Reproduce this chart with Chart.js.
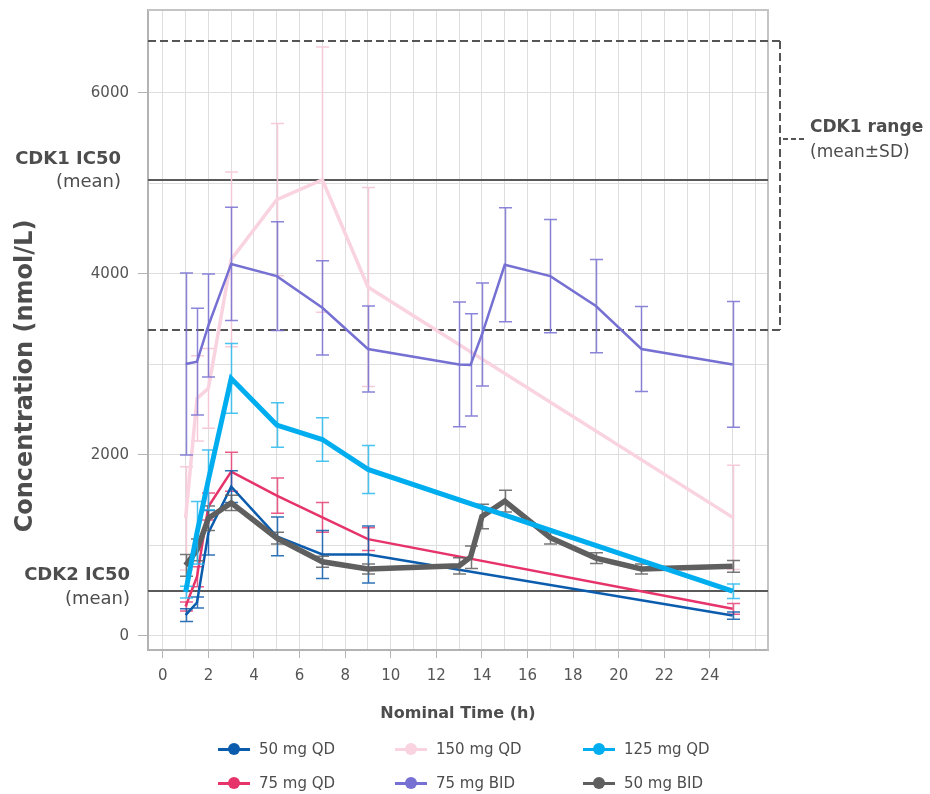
<!DOCTYPE html>
<html>
<head>
<meta charset="utf-8">
<title>Concentration over time</title>
<script src="https://cdn.jsdelivr.net/npm/chart.js@4.4.1/dist/chart.umd.min.js"></script>
<style>
  html, body { margin: 0; padding: 0; background: #ffffff; }
  #wrap { position: relative; width: 930px; height: 794px; overflow: hidden; }
  #chart { position: absolute; left: 0; top: 0; }
  .item { position: absolute; display: flex; align-items: center; white-space: nowrap;
          font-family: "DejaVu Sans", sans-serif; font-size: 15px; color: #4d4d4d; height: 20px; }
  .mark { position: relative; width: 32px; height: 12px; margin-right: 9px; flex: none; }
  .mark .ln { position: absolute; left: 0; right: 0; top: 5px; height: 3px; }
  .mark .dot { position: absolute; left: 10px; top: 0; width: 12px; height: 12px; border-radius: 50%; }
</style>
</head>
<body>
<div id="wrap">
  <canvas id="chart" width="930" height="794"></canvas>
</div>
<script>
// Nominal sampling times (h)
const timesQD  = [1, 1.5, 2, 3, 5, 7, 9, 25];
const timesBID = [1, 1.5, 2, 3, 5, 7, 9, 13, 13.5, 14, 15, 17, 19, 21, 25];

// Mean concentrations (nmol/L) and SD per dose group
const mean50QD  = [230, 370, 1140, 1650, 1100, 900, 900, 225];
const sd50QD    = [70, 60, 245, 175, 215, 265, 315, 40];
const mean75QD  = [325, 655, 1430, 1815, 1550, 1310, 1070, 300];
const sd75QD    = [50, 110, 150, 215, 195, 165, 125, 60];
const mean150QD = [1300, 2625, 2735, 4160, 4820, 5040, 3855, 1310];
const sd150QD   = [570, 470, 440, 965, 840, 1465, 1100, 575];
const mean125QD = [485, 1140, 1725, 2845, 2330, 2170, 1840, 495];
const sd125QD   = [65, 345, 330, 385, 245, 240, 265, 80];
const mean75BID = [3005, 3030, 3430, 4110, 3975, 3625, 3170, 3000, 2995, 3330, 4100, 3975, 3645, 3170, 3000];
const sd75BID   = [1005, 590, 570, 625, 600, 520, 475, 690, 565, 570, 630, 625, 515, 470, 695];
const mean50BID = [780, 950, 1300, 1470, 1080, 820, 740, 775, 870, 1320, 1490, 1085, 860, 740, 770];
const sd50BID   = [120, 120, 135, 85, 65, 60, 55, 90, 125, 135, 120, 70, 60, 55, 65];

// Reference potency levels (nmol/L)
const cdk1Mean  = 5040;
const cdk1Range = [3375, 6570];   // mean - SD, mean + SD
const cdk2Mean  = 500;

// Axis ticks: grid positions and labelled values
const xGrid = [0, 1, 2, 3, 4, 5, 6, 7, 8, 9, 10, 11, 12, 13, 14, 15, 16, 17, 18, 19, 20, 21, 22, 23, 24, 25, 26];
const xTickLabels = [0, 2, 4, 6, 8, 10, 12, 14, 16, 18, 20, 22, 24];
const yGrid = [0, 1000, 2000, 3000, 4000, 5000, 6000];
const yTickLabels = [0, 2000, 4000, 6000];

const FONT = '"DejaVu Sans", sans-serif';
const TEXT = '#4d4d4d';

function points(times, values) {
  return times.map((t, i) => ({ x: t, y: values[i] }));
}

// Series in legend order (row by row)
const series = [
  { label: '50 mg QD',  t: timesQD,  m: mean50QD,  sd: sd50QD,  color: '#0b5cad', bar: 'rgba(11,92,173,0.85)',   width: 2.5, order: 3 },
  { label: '150 mg QD', t: timesQD,  m: mean150QD, sd: sd150QD, color: '#f9d3df', bar: 'rgba(246,200,214,0.95)', width: 3.5, order: 6 },
  { label: '125 mg QD', t: timesQD,  m: mean125QD, sd: sd125QD, color: '#00aeef', bar: 'rgba(40,184,240,0.85)',  width: 5,   order: 1 },
  { label: '75 mg QD',  t: timesQD,  m: mean75QD,  sd: sd75QD,  color: '#e6336a', bar: 'rgba(230,51,106,0.8)',   width: 2.5, order: 4 },
  { label: '75 mg BID', t: timesBID, m: mean75BID, sd: sd75BID, color: '#7570d2', bar: 'rgba(117,112,210,0.85)', width: 2.5, order: 5 },
  { label: '50 mg BID', t: timesBID, m: mean50BID, sd: sd50BID, color: '#5f5f5f', bar: 'rgba(95,95,95,0.85)',    width: 5.5, order: 2 }
];

const datasets = series.map(s => ({
  label: s.label,
  data: points(s.t, s.m),
  borderColor: s.color,
  backgroundColor: s.color,
  borderWidth: s.width,
  pointRadius: 0,
  tension: 0,
  order: s.order,
  clip: false
}));

// Mean ± SD whiskers, drawn just before each line
const sdWhiskers = {
  id: 'sdWhiskers',
  beforeDatasetDraw(chart, args) {
    const s = series[args.index];
    const xs = chart.scales.x, ys = chart.scales.y, c = chart.ctx;
    c.save();
    c.strokeStyle = s.bar;
    c.lineWidth = 1.5;
    s.t.forEach((t, i) => {
      const px = Math.round(xs.getPixelForValue(t)) + 0.5;
      const top = ys.getPixelForValue(s.m[i] + s.sd[i]);
      const bot = ys.getPixelForValue(s.m[i] - s.sd[i]);
      c.beginPath();
      c.moveTo(px, top); c.lineTo(px, bot);
      c.moveTo(px - 6.5, top); c.lineTo(px + 6.5, top);
      c.moveTo(px - 6.5, bot); c.lineTo(px + 6.5, bot);
      c.stroke();
    });
    c.restore();
  }
};

// IC50 reference lines, CDK1 range bracket, frame and annotation text
const referenceLines = {
  id: 'referenceLines',
  beforeDatasetsDraw(chart) {
    const { ctx: c, chartArea: a } = chart;
    const ys = chart.scales.y;
    c.save();
    // top / right frame
    c.strokeStyle = '#c4c4c4';
    c.lineWidth = 2;
    c.beginPath();
    c.moveTo(a.left, a.top); c.lineTo(a.right, a.top); c.lineTo(a.right, a.bottom);
    c.stroke();

    // solid IC50 lines
    c.strokeStyle = '#5a5a5a';
    c.lineWidth = 2;
    [cdk1Mean, cdk2Mean].forEach(v => {
      const y = Math.round(ys.getPixelForValue(v));
      c.beginPath(); c.moveTo(a.left, y); c.lineTo(a.right, y); c.stroke();
    });

    // dashed CDK1 range with bracket
    const bx = a.right + 12;
    const yHi = Math.round(ys.getPixelForValue(cdk1Range[1]));
    const yLo = Math.round(ys.getPixelForValue(cdk1Range[0]));
    c.setLineDash([8, 4]);
    c.strokeStyle = '#555555';
    c.beginPath();
    c.moveTo(a.left, yHi); c.lineTo(bx, yHi);
    c.moveTo(a.left, yLo); c.lineTo(bx, yLo);
    c.moveTo(bx, yHi); c.lineTo(bx, yLo);
    c.stroke();
    c.setLineDash([5, 3]);
    const yc = yHi + 98;
    c.beginPath(); c.moveTo(bx + 3, yc); c.lineTo(bx + 25, yc); c.stroke();
    c.restore();
  },
  afterDraw(chart) {
    const { ctx: c, chartArea: a } = chart;
    const ys = chart.scales.y;
    c.save();
    c.fillStyle = TEXT;
    c.textBaseline = 'middle';

    // y axis title
    c.save();
    c.translate(26, 376);
    c.rotate(-Math.PI / 2);
    c.textAlign = 'center';
    c.font = 'bold 24px ' + FONT;
    c.fillText('Concentration (nmol/L)', 0, 0);
    c.restore();

    // left labels for the IC50 lines
    c.textAlign = 'right';
    const y1 = ys.getPixelForValue(cdk1Mean);
    c.font = 'bold 18px ' + FONT;
    c.fillText('CDK1 IC50', 121, y1 - 20);
    c.font = '18px ' + FONT;
    c.fillText('(mean)', 121, y1 + 3);
    const y2 = ys.getPixelForValue(cdk2Mean);
    c.font = 'bold 18px ' + FONT;
    c.fillText('CDK2 IC50', 130, y2 - 15);
    c.font = '18px ' + FONT;
    c.fillText('(mean)', 130, y2 + 9);

    // right label for the range bracket
    const yHi = Math.round(ys.getPixelForValue(cdk1Range[1]));
    const yc = yHi + 98;
    c.textAlign = 'left';
    c.font = 'bold 17px ' + FONT;
    c.fillText('CDK1 range', a.right + 42, yc - 11);
    c.font = '17px ' + FONT;
    c.fillText('(mean\u00B1SD)', a.right + 42, yc + 14);
    c.restore();
  }
};

const gridColor = '#dedede';
const axisColor = '#b3b3b3';

const chart = new Chart(document.getElementById('chart'), {
  type: 'line',
  data: { datasets },
  options: {
    responsive: false,
    animation: false,
    devicePixelRatio: 1,
    layout: { padding: { left: 0, right: 162, top: 10, bottom: 64 } },
    plugins: { legend: { display: false }, tooltip: { enabled: false } },
    scales: {
      x: {
        type: 'linear',
        min: -0.65,
        max: 26.55,
        afterBuildTicks: axis => { axis.ticks = xGrid.map(v => ({ value: v })); },
        afterFit: s => { s.height = 80; s.paddingLeft = 0; s.paddingRight = 0; },
        border: { color: axisColor, width: 2 },
        grid: {
          color: gridColor,
          lineWidth: 1,
          tickLength: 8,
          tickColor: c => (c.tick && xTickLabels.includes(c.tick.value)) ? axisColor : 'rgba(0,0,0,0)'
        },
        ticks: {
          autoSkip: false,
          maxRotation: 0,
          padding: 9,
          color: '#555555',
          font: { family: FONT, size: 15 },
          callback: v => xTickLabels.includes(v) ? String(v) : ''
        },
        title: {
          display: true,
          text: 'Nominal Time (h)',
          color: TEXT,
          font: { family: FONT, size: 16, weight: 'bold' },
          padding: { top: 0, bottom: 7 }
        }
      },
      y: {
        type: 'linear',
        min: -155,
        max: 6915,
        afterBuildTicks: axis => { axis.ticks = yGrid.map(v => ({ value: v })); },
        afterFit: s => { s.width = 148; s.paddingTop = 0; s.paddingBottom = 0; },
        border: { color: axisColor, width: 2 },
        grid: {
          color: gridColor,
          lineWidth: 1,
          tickLength: 10,
          tickColor: c => (c.tick && yTickLabels.includes(c.tick.value)) ? axisColor : 'rgba(0,0,0,0)'
        },
        ticks: {
          autoSkip: false,
          padding: 9,
          color: '#555555',
          font: { family: FONT, size: 15 },
          callback: v => yTickLabels.includes(v) ? String(v) : ''
        },
        title: { display: false }
      }
    }
  },
  plugins: [referenceLines, sdWhiskers]
});

// Legend: three columns, two rows
const legendCols = [218, 395, 583];
const legendRows = [749, 783];
const wrap = document.getElementById('wrap');
series.forEach((s, i) => {
  const item = document.createElement('div');
  item.className = 'item';
  item.style.left = legendCols[i % 3] + 'px';
  item.style.top = (legendRows[Math.floor(i / 3)] - 10) + 'px';
  item.innerHTML = '<span class="mark"><span class="ln" style="background:' + s.color +
    '"></span><span class="dot" style="background:' + s.color + '"></span></span><span>' + s.label + '</span>';
  wrap.appendChild(item);
});
</script>
</body>
</html>
